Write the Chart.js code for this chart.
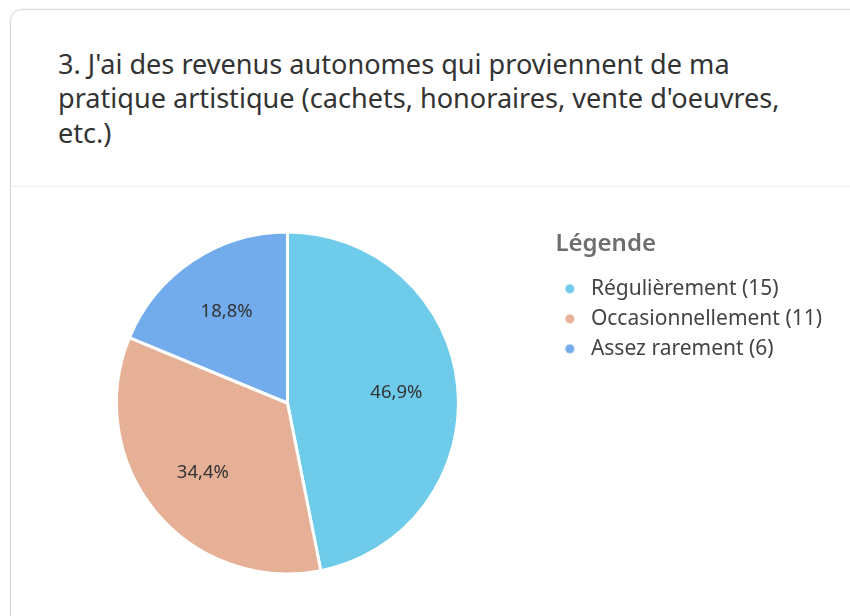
<!DOCTYPE html>
<html lang="fr">
<head>
<meta charset="utf-8">
<title>Revenus autonomes</title>
<script src="https://cdn.jsdelivr.net/npm/chart.js@4/dist/chart.umd.min.js"></script>
<style>
    html, body { margin: 0; padding: 0; background: #fff; overflow: hidden; }
    body { width: 850px; height: 616px; position: relative; font-family: 'Segoe UI', 'Noto Sans', sans-serif; }
    .card {
        position: absolute; left: 10px; top: 9px; width: 900px; height: 700px;
        border: 1px solid #d9d9d9; border-radius: 12px;
        box-shadow: 0 0 2px rgba(0, 0, 0, 0.14);
        box-sizing: border-box;
    }
    .card h2 {
        margin: 0; position: absolute; left: 47px; top: 36.5px; white-space: nowrap;
        font-size: 27.5px; font-weight: 400; line-height: 34.5px; color: #333333;
        transform: scaleX(0.985); transform-origin: 0 0;
    }
    .card .sep { position: absolute; left: 0; right: 0; top: 176px; height: 1px; background: #eeeeee; }
    .chart-box { position: absolute; left: 12px; top: 188px; width: 838px; height: 428px; }
</style>
</head>
<body>
<div class="card">
    <h2>3. J'ai des revenus autonomes qui proviennent de ma<br>pratique artistique (cachets, honoraires, vente d'oeuvres,<br>etc.)</h2>
    <div class="sep"></div>
</div>
<div class="chart-box"><canvas id="pieChart"></canvas></div>

<script>
// --------------------------------------------------------------------
// Data
// --------------------------------------------------------------------
const categories = ['Régulièrement', 'Occasionnellement', 'Assez rarement'];
const counts = [15, 11, 6];
const sliceColors = ['#6ecbea', '#e6b097', '#72acec'];
const legendTitle = 'Légende';

const total = counts.reduce((a, b) => a + b, 0);
const fmtPct = v => (v / total * 100).toFixed(1).replace('.', ',') + '%';
const fontFamily = "'Segoe UI', 'Noto Sans', sans-serif";

// small dot used as legend marker (wider box => gap before the text)
function legendDot(color) {
    const c = document.createElement('canvas');
    c.width = 16;
    c.height = 12;
    const g = c.getContext('2d');
    g.fillStyle = color;
    g.beginPath();
    g.arc(5.5, 6, 4.5, 0, Math.PI * 2);
    g.fill();
    return c;
}

// percentage labels inside the slices
const sliceLabels = {
    id: 'sliceLabels',
    afterDatasetsDraw(chart) {
        const ctx = chart.ctx;
        const meta = chart.getDatasetMeta(0);
        ctx.save();
        ctx.font = '18.5px ' + fontFamily;
        ctx.fillStyle = '#333333';
        ctx.textAlign = 'center';
        ctx.textBaseline = 'middle';
        meta.data.forEach((arc, i) => {
            const p = arc.getProps(['x', 'y', 'startAngle', 'endAngle', 'outerRadius'], true);
            const mid = (p.startAngle + p.endAngle) / 2;
            const r = p.outerRadius * 0.64;
            ctx.fillText(fmtPct(counts[i]), p.x + Math.cos(mid) * r, p.y + Math.sin(mid) * r);
        });
        ctx.restore();
    }
};

const pieCtx = document.getElementById('pieChart');
new Chart(pieCtx, {
    type: 'pie',
    data: {
        labels: categories,
        datasets: [{
            data: counts,
            backgroundColor: sliceColors,
            borderColor: '#ffffff',
            borderWidth: 3
        }]
    },
    options: {
        responsive: true,
        maintainAspectRatio: false,
        animation: false,
        layout: { padding: { left: 7.5, right: 18, top: 42.5, bottom: 40.5 } },
        plugins: {
            tooltip: { enabled: false },
            legend: {
                position: 'right',
                align: 'start',
                title: {
                    display: true,
                    text: legendTitle,
                    position: 'start',
                    color: '#6e6e6e',
                    font: { size: 24, weight: '600', family: fontFamily },
                    padding: { top: 2, bottom: 8 }
                },
                labels: {
                    color: '#444444',
                    padding: 9,
                    usePointStyle: true,
                    pointStyleWidth: 16,
                    boxHeight: 12,
                    font: { size: 21, family: fontFamily },
                    generateLabels: chart => Chart.overrides.pie.plugins.legend.labels.generateLabels(chart).map((item, i) => ({
                        ...item,
                        text: categories[i] + ' (' + counts[i] + ')',
                        pointStyle: legendDot(sliceColors[i]),
                        lineWidth: 0
                    }))
                }
            }
        }
    },
    plugins: [sliceLabels]
});
</script>
</body>
</html>
